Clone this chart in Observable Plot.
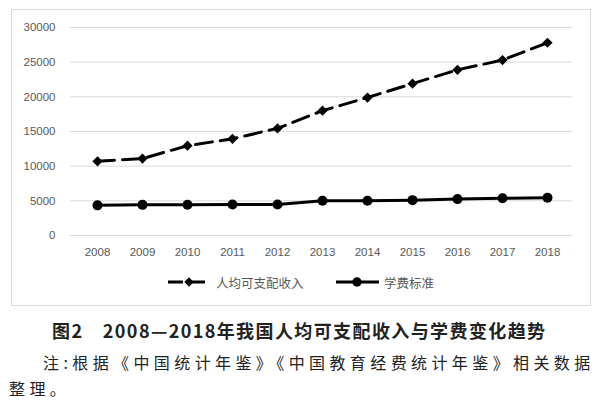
<!DOCTYPE html>
<html>
<head>
<meta charset="utf-8">
<script src="https://cdn.jsdelivr.net/npm/d3@7"></script>
<script src="https://cdn.jsdelivr.net/npm/@observablehq/plot@0.6"></script>
<style>
  html, body { margin: 0; padding: 0; background: #fff; }
  body { width: 600px; height: 401px; position: relative; overflow: hidden; font-family: "Noto Sans CJK SC", sans-serif; }
  #frame { position: absolute; left: 11px; top: 9px; width: 580px; height: 297px; box-sizing: border-box; border: 1px solid #d9d9d9; }
  #chart { position: absolute; left: 0; top: 0; }
  #legend { position: absolute; top: 262px; left: 0; width: 578px; height: 20px; font-size: 12.5px; color: #595959; }
  .li { position: absolute; top: 0; display: flex; align-items: center; height: 20px; }
  .li svg { display: block; margin-right: 4px; }
  #title { position: absolute; left: 52px; top: 317px; font-size: 18px; font-weight: bold; color: #222; white-space: nowrap; letter-spacing: 1.4px; }
  #note1 { position: absolute; left: 43px; top: 350px; font-size: 16px; color: #222; white-space: nowrap; letter-spacing: 4.4px; }
  #note2 { position: absolute; left: 9px; top: 376px; font-size: 16px; color: #222; white-space: nowrap; letter-spacing: 4.4px; }
</style>
</head>
<body>
<div id="frame">
  <div id="chart"></div>
  <div id="legend"></div>
</div>
<div id="title">图2　2008—2018年我国人均可支配收入与学费变化趋势</div>
<div id="note1">注:根据《中国统计年鉴》《中国教育经费统计年鉴》相关数据</div>
<div id="note2">整理。</div>
<script>
const years = [2008, 2009, 2010, 2011, 2012, 2013, 2014, 2015, 2016, 2017, 2018];
const income = [10700, 11100, 12950, 13950, 15450, 18000, 19900, 21900, 23900, 25300, 27800];
const fee = [4350, 4420, 4430, 4480, 4480, 5000, 5000, 5100, 5250, 5380, 5440];
const yTicks = [0, 5000, 10000, 15000, 20000, 25000, 30000];
const seriesNames = ["人均可支配收入", "学费标准"];

const incomeData = years.map((y, i) => ({year: y, value: income[i]}));
const feeData = years.map((y, i) => ({year: y, value: fee[i]}));

const plot = Plot.plot({
  width: 578,
  height: 260,
  marginLeft: 58,
  marginRight: 18,
  marginTop: 17,
  marginBottom: 35,
  style: {fontFamily: "'Liberation Sans', Arial, sans-serif", fontSize: "11.5px", color: "#595959", background: "transparent"},
  x: {type: "point", domain: years, range: [82, 538], padding: 0, label: null},
  y: {domain: [0, 30000], label: null},
  marks: [
    Plot.ruleY(yTicks, {stroke: "#d9d9d9", strokeWidth: 1}),
    Plot.axisY({ticks: yTicks, tickSize: 0, tickPadding: 15, tickFormat: d => String(d), fill: "#595959"}),
    Plot.axisX({tickSize: 0, tickPadding: 12, tickFormat: d => String(d), fill: "#595959"}),
    Plot.line(incomeData, {x: "year", y: "value", stroke: "#000", strokeWidth: 3, strokeDasharray: "17,8"}),
    Plot.dot(incomeData, {x: "year", y: "value", symbol: "diamond2", r: 4.6, fill: "#000", stroke: "none"}),
    Plot.line(feeData, {x: "year", y: "value", stroke: "#000", strokeWidth: 3}),
    Plot.dot(feeData, {x: "year", y: "value", symbol: "circle", r: 5, fill: "#000", stroke: "none"})
  ]
});
document.getElementById("chart").appendChild(plot);

// legend
const legend = document.getElementById("legend");
const items = [
  {name: seriesNames[0], left: 155, dashed: true},
  {name: seriesNames[1], left: 323, dashed: false}
];
for (const it of items) {
  const div = document.createElement("div");
  div.className = "li";
  div.style.left = it.left + "px";
  const ns = "http://www.w3.org/2000/svg";
  const svg = document.createElementNS(ns, "svg");
  svg.setAttribute("width", 45);
  svg.setAttribute("height", 20);
  const line = document.createElementNS(ns, "line");
  line.setAttribute("x1", 1); line.setAttribute("x2", 44);
  line.setAttribute("y1", 10); line.setAttribute("y2", 10);
  line.setAttribute("stroke", "#000");
  line.setAttribute("stroke-width", 3);
  if (it.dashed) line.setAttribute("stroke-dasharray", "15,7");
  svg.appendChild(line);
  const sym = document.createElementNS(ns, "path");
  const s = it.dashed ? d3.symbol(d3.symbolDiamond2, 55) : d3.symbol(d3.symbolCircle, 70);
  sym.setAttribute("d", s());
  sym.setAttribute("transform", "translate(22,10)");
  sym.setAttribute("fill", "#000");
  svg.appendChild(sym);
  div.appendChild(svg);
  const span = document.createElement("span");
  span.textContent = it.name;
  div.appendChild(span);
  legend.appendChild(div);
}
</script>
</body>
</html>
